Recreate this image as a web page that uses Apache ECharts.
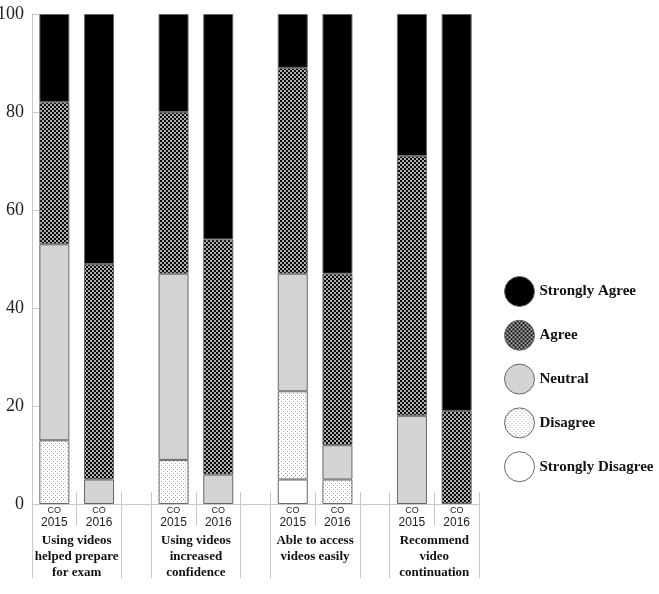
<!DOCTYPE html>
<html>
<head>
<meta charset="utf-8">
<script src="https://cdn.jsdelivr.net/npm/echarts@6/dist/echarts.min.js"></script>
<style>
  html, body { margin: 0; padding: 0; background: #fff; }
  #chart { width: 659px; height: 594px; }
</style>
</head>
<body>
<div id="chart"></div>
<script>
// 30 narrow slots across the plot; each bar sits in one of them
const slotCount = 30;
const barSlots = [1, 4, 9, 12, 17, 20, 25, 28];
const barYears = ['2015', '2016', '2015', '2016', '2015', '2016', '2015', '2016'];
const cellEdges = [0, 3, 6, 8, 11, 14, 16, 19, 22, 24, 27, 30];
const groupEdges = [0, 6, 8, 14, 16, 22, 24, 30];
const groupPos = [3, 11, 19, 27];
const groupNames = [
  'Using videos\nhelped prepare\nfor exam',
  'Using videos\nincreased\nconfidence',
  'Able to access\nvideos easily',
  'Recommend\nvideo\ncontinuation',
];

// percentages per response, in bar order
const stronglyDisagree = [0, 0, 0, 0, 5, 0, 0, 0];
const disagree = [13, 0, 9, 0, 18, 5, 0, 0];
const neutral = [40, 5, 38, 6, 24, 7, 18, 0];
const agree = [29, 44, 33, 48, 42, 35, 53, 19];
const stronglyAgree = [18, 51, 20, 46, 11, 53, 29, 81];

// fill patterns
function makeChecker() {
  const c = document.createElement('canvas');
  c.width = 4; c.height = 4;
  const ctx = c.getContext('2d');
  ctx.fillStyle = '#b0b0b0';
  ctx.fillRect(0, 0, 4, 4);
  ctx.fillStyle = '#0a0a0a';
  ctx.fillRect(0, 0, 2, 2);
  ctx.fillRect(2, 2, 2, 2);
  return c;
}
function makeDots() {
  const c = document.createElement('canvas');
  c.width = 4; c.height = 4;
  const ctx = c.getContext('2d');
  ctx.fillStyle = '#fff';
  ctx.fillRect(0, 0, 4, 4);
  ctx.fillStyle = '#a8a8a8';
  ctx.fillRect(1, 1, 1, 1);
  ctx.fillRect(3, 3, 1, 1);
  return c;
}

const chart = echarts.init(document.getElementById('chart'));

const serif = '"Liberation Serif", "Times New Roman", serif';
const sans = '"Liberation Sans", Arial, sans-serif';
const border = '#666';
const axisGray = '#c8c8c8';

const slots = Array.from({ length: slotCount }, (_, i) => 's' + i);

function spread(values) {
  // put each bar value into its slot, empty slots get '-'
  const out = slots.map(() => '-');
  values.forEach((v, i) => {
    out[barSlots[i]] = v === 0 ? '-' : v;
  });
  return out;
}

function mk(name, values, color) {
  return {
    name: name,
    type: 'bar',
    stack: 'total',
    barWidth: 30,
    xAxisIndex: 0,
    itemStyle: { color: color, borderColor: border, borderWidth: 1 },
    emphasis: { disabled: true },
    data: spread(values),
  };
}

function helperAxis(extra) {
  return Object.assign({
    type: 'value',
    position: 'bottom',
    offset: 0,
    min: 0,
    max: slotCount,
    splitLine: { show: false },
    axisLine: { show: false },
    axisLabel: { show: false },
  }, extra);
}

const option = {
  animation: false,
  grid: { left: 32, right: 180, top: 14, bottom: 90, outerBoundsMode: 'none', containLabel: false },
  legend: {
    orient: 'vertical',
    left: 504,
    top: 276,
    padding: 0,
    icon: 'circle',
    itemWidth: 30,
    itemHeight: 30,
    itemGap: 12.8,
    data: ['Strongly Agree', 'Agree', 'Neutral', 'Disagree', 'Strongly Disagree'],
    itemStyle: { borderColor: border, borderWidth: 1 },
    textStyle: { fontFamily: serif, fontWeight: 'bold', fontSize: 15, color: '#111' },
    selectedMode: false,
  },
  xAxis: [
    {
      // bars live here
      type: 'category',
      data: slots,
      position: 'bottom',
      axisLine: { show: false },
      axisTick: { show: false },
      axisLabel: { show: false },
      splitLine: { show: false },
    },
    helperAxis({
      // axis line, long question dividers and CO year labels
      axisLine: { show: true, lineStyle: { color: axisGray } },
      axisTick: { show: true, customValues: groupEdges, length: 74, lineStyle: { color: axisGray } },
      axisLabel: {
        customValues: barSlots.map((s) => s + 0.5),
        margin: 2,
        formatter: (v) => {
          const i = barSlots.indexOf(v - 0.5);
          return '{a|CO}\n{b|' + (i >= 0 ? barYears[i] : '') + '}';
        },
        rich: {
          a: { fontFamily: sans, fontSize: 9, lineHeight: 10, color: '#222' },
          b: { fontFamily: sans, fontSize: 12, lineHeight: 13, color: '#222' },
        },
      },
    }),
    helperAxis({
      // short dividers above the axis
      axisTick: { show: true, inside: true, customValues: cellEdges, length: 12, lineStyle: { color: axisGray } },
    }),
    helperAxis({
      // year dividers between the two bars + question labels
      axisTick: { show: true, customValues: groupPos, length: 21, lineStyle: { color: axisGray } },
      axisLabel: {
        show: true,
        customValues: groupPos,
        margin: 29,
        formatter: (v) => groupNames[groupPos.indexOf(v)] || '',
        fontFamily: serif,
        fontWeight: 'bold',
        fontSize: 13,
        lineHeight: 16,
        color: '#111',
      },
    }),
  ],
  yAxis: {
    type: 'value',
    min: 0,
    max: 100,
    interval: 20,
    splitLine: { show: false },
    axisLine: { show: true, lineStyle: { color: axisGray } },
    axisTick: { show: true, inside: true, length: 7, lineStyle: { color: axisGray } },
    axisLabel: {
      margin: 8,
      fontFamily: serif,
      fontSize: 18,
      color: '#222',
    },
  },
  series: [
    mk('Strongly Disagree', stronglyDisagree, '#ffffff'),
    mk('Disagree', disagree, { image: makeDots(), repeat: 'repeat' }),
    mk('Neutral', neutral, '#d5d3d3'),
    mk('Agree', agree, { image: makeChecker(), repeat: 'repeat' }),
    mk('Strongly Agree', stronglyAgree, '#000000'),
  ],
};

chart.setOption(option);
</script>
</body>
</html>
